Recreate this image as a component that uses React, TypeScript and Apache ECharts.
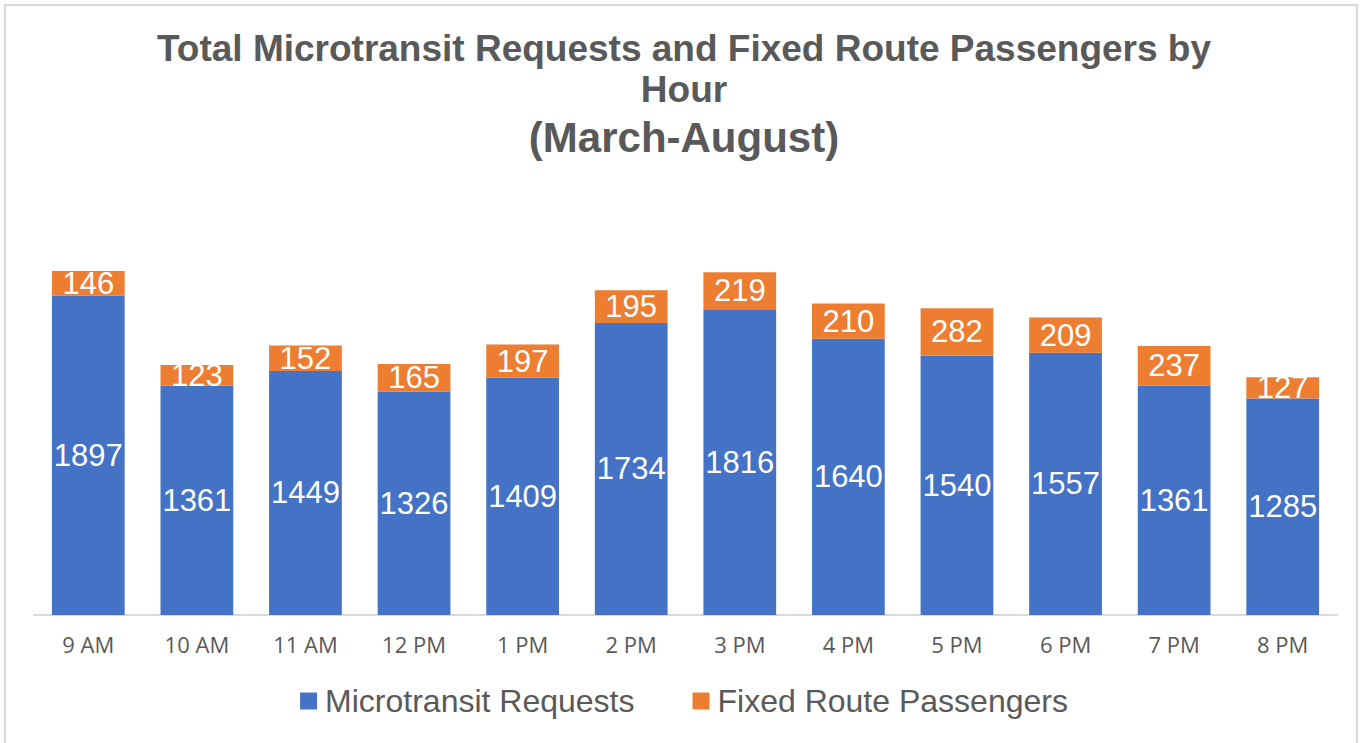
import React, { useEffect, useRef } from "react";
import * as echarts from "echarts";

const hours = ["9 AM", "10 AM", "11 AM", "12 PM", "1 PM", "2 PM", "3 PM", "4 PM", "5 PM", "6 PM", "7 PM", "8 PM"];
const microtransitRequests = [1897, 1361, 1449, 1326, 1409, 1734, 1816, 1640, 1540, 1557, 1361, 1285];
const fixedRoutePassengers = [146, 123, 152, 165, 197, 195, 219, 210, 282, 209, 237, 127];

export default function App() {
  const ref = useRef<HTMLDivElement>(null);
  useEffect(() => {
    if (!ref.current) return;
    const chart = echarts.init(ref.current, null, { renderer: "svg" });
    const font = "'Liberation Sans', Arial, sans-serif";
    chart.setOption({
      animation: false,
      backgroundColor: "#ffffff",
      title: [
        {
          text: "Total Microtransit Requests and Fixed Route Passengers by\nHour",
          left: "center",
          top: 23,
          textStyle: { fontFamily: font, fontWeight: "bold", fontSize: 37, color: "#595959", lineHeight: 41 },
        },
        {
          text: "(March-August)",
          left: "center",
          top: 111,
          textStyle: { fontFamily: font, fontWeight: "bold", fontSize: 42, color: "#595959" },
        },
      ],
      graphic: [
        {
          type: "rect",
          shape: { x: 5, y: 5, width: 1352, height: 760 },
          style: { fill: "none", stroke: "#d9d9d9", lineWidth: 2 },
          silent: true,
        },
      ],
      legend: {
        bottom: 21,
        left: "center",
        icon: "rect",
        itemWidth: 17,
        itemHeight: 17,
        itemGap: 58,
        textStyle: { fontFamily: font, fontSize: 32, color: "#595959", padding: [0, 0, 0, 3] },
        data: ["Microtransit Requests", "Fixed Route Passengers"],
      },
      grid: { left: 34, right: 31, top: 194, bottom: 128, containLabel: false },
      xAxis: {
        type: "category",
        data: hours,
        axisLine: { lineStyle: { color: "#d9d9d9", width: 2 } },
        axisTick: { show: false },
        axisLabel: { fontFamily: "'Open Sans', sans-serif", fontSize: 22, color: "#595959", margin: 18 },
      },
      yAxis: {
        type: "value",
        min: 0,
        max: 2500,
        show: false,
        splitLine: { show: false },
      },
      series: [
        {
          name: "Microtransit Requests",
          type: "bar",
          stack: "total",
          data: microtransitRequests,
          barCategoryGap: "33%",
          itemStyle: { color: "#4472C4" },
          label: { show: true, position: "inside", color: "#ffffff", fontFamily: font, fontSize: 31 },
        },
        {
          name: "Fixed Route Passengers",
          type: "bar",
          stack: "total",
          data: fixedRoutePassengers,
          barCategoryGap: "33%",
          itemStyle: { color: "#ED7D31" },
          label: { show: true, position: "inside", color: "#ffffff", fontFamily: font, fontSize: 31 },
        },
      ],
    });
    return () => chart.dispose();
  }, []);
  return <div ref={ref} style={{ position: "fixed", left: 0, top: 0, width: 1368, height: 743 }} />;
}
